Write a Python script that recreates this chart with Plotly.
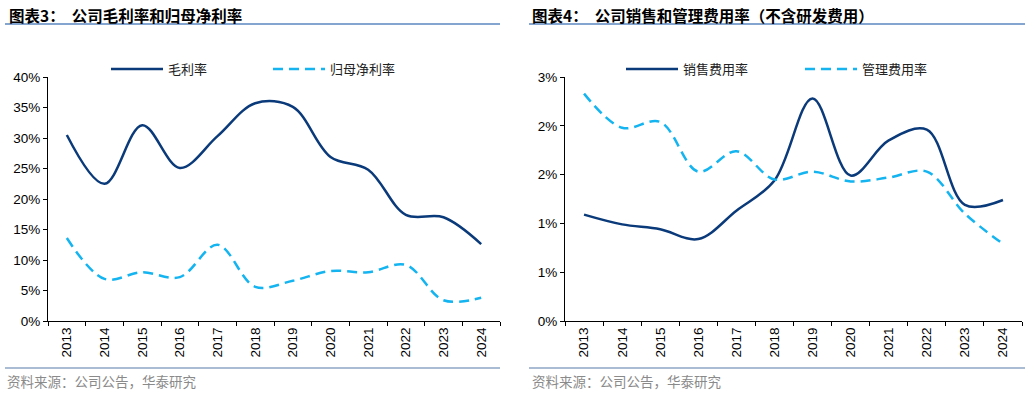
import plotly.graph_objects as go

years = ["2013", "2014", "2015", "2016", "2017", "2018", "2019", "2020", "2021", "2022", "2023", "2024"]

# 图表3 (%)
gross_margin = [30.5, 22.5, 32.1, 25.1, 30.3, 35.7, 35.1, 26.9, 24.8, 17.4, 17.0, 12.6]
net_margin = [13.6, 6.9, 8.0, 7.2, 12.5, 5.6, 6.6, 8.2, 8.0, 9.2, 3.4, 3.8]

# 图表4 (%)
selling_ratio = [1.09, 0.99, 0.94, 0.84, 1.13, 1.44, 2.28, 1.49, 1.85, 1.96, 1.19, 1.24]
admin_ratio = [2.33, 1.98, 2.04, 1.53, 1.74, 1.45, 1.53, 1.43, 1.47, 1.53, 1.10, 0.79]

left_yticks = [0, 5, 10, 15, 20, 25, 30, 35, 40]
left_yticklabels = ["0%", "5%", "10%", "15%", "20%", "25%", "30%", "35%", "40%"]
right_yticks = [0, 0.5, 1.0, 1.5, 2.0, 2.5]
right_yticklabels = ["0%", "1%", "1%", "2%", "2%", "3%"]

title_left = "图表3：  公司毛利率和归母净利率"
title_right = "图表4：  公司销售和管理费用率（不含研发费用）"
source_text = "资料来源：公司公告，华泰研究"

NAVY = "#0a3a7a"
LIGHT = "#14b4f0"
W, H = 1030, 393
CJK = "Noto Sans CJK SC"
LAT = "Liberation Sans, Arial, sans-serif"

def px(x):
    return x / W

def py(y):
    return (H - y) / H

fig = go.Figure()

fig.add_trace(go.Scatter(x=years, y=gross_margin, name="毛利率", mode="lines",
                         line=dict(color=NAVY, width=2.5, shape="spline"),
                         xaxis="x", yaxis="y", legend="legend"))
fig.add_trace(go.Scatter(x=years, y=net_margin, name="归母净利率", mode="lines",
                         line=dict(color=LIGHT, width=2.5, shape="spline", dash="10px,6px"),
                         xaxis="x", yaxis="y", legend="legend"))
fig.add_trace(go.Scatter(x=years, y=selling_ratio, name="销售费用率", mode="lines",
                         line=dict(color=NAVY, width=2.5, shape="spline"),
                         xaxis="x2", yaxis="y2", legend="legend2"))
fig.add_trace(go.Scatter(x=years, y=admin_ratio, name="管理费用率", mode="lines",
                         line=dict(color=LIGHT, width=2.5, shape="spline", dash="10px,6px"),
                         xaxis="x2", yaxis="y2", legend="legend2"))

xcommon = dict(type="category", range=[-0.5, 11.5], showline=True, linecolor="black",
               linewidth=1, ticks="outside", ticklen=4, tickcolor="black", tickson="boundaries",
               tickangle=-90, showgrid=False, zeroline=False, automargin=False,
               tickfont=dict(family=LAT, size=13.5, color="black"), fixedrange=True)
ycommon = dict(showline=True, linecolor="black", linewidth=1, ticks="outside", ticklen=4,
               tickcolor="black", showgrid=False, zeroline=False, automargin=False,
               tickfont=dict(family=LAT, size=13.5, color="black"), fixedrange=True)

legend_common = dict(orientation="h", xanchor="left", yanchor="middle",
                     entrywidthmode="pixels", itemwidth=52, bgcolor="rgba(0,0,0,0)",
                     font=dict(family=CJK, size=13, color="#222"))

fig.update_layout(
    width=W, height=H,
    margin=dict(l=0, r=0, t=0, b=0, pad=0, autoexpand=False),
    paper_bgcolor="white", plot_bgcolor="white",
    xaxis=dict(domain=[px(48), px(500)], anchor="y", **xcommon),
    yaxis=dict(domain=[py(321), py(77)], anchor="x", range=[0, 40], tickvals=left_yticks,
               ticktext=left_yticklabels, **ycommon),
    xaxis2=dict(domain=[px(565), px(1022)], anchor="y2", **xcommon),
    yaxis2=dict(domain=[py(321), py(77)], anchor="x2", range=[0, 2.5], tickvals=right_yticks,
                ticktext=right_yticklabels, **ycommon),
    legend=dict(x=px(106), y=py(69), entrywidth=95, **legend_common),
    legend2=dict(x=px(621), y=py(69), entrywidth=112, **legend_common),
    showlegend=True,
)

annotations = [
    dict(text="<b>" + title_left + "</b>", x=px(7), y=py(15), xref="paper", yref="paper",
         xanchor="left", yanchor="middle", showarrow=False,
         font=dict(family=CJK, size=15.5, color="black")),
    dict(text="<b>" + title_right + "</b>", x=px(530), y=py(15), xref="paper", yref="paper",
         xanchor="left", yanchor="middle", showarrow=False,
         font=dict(family=CJK, size=15.5, color="black")),
    dict(text=source_text, x=px(5), y=py(381), xref="paper", yref="paper",
         xanchor="left", yanchor="middle", showarrow=False,
         font=dict(family=CJK, size=13.5, color="#8a8a8a")),
    dict(text=source_text, x=px(530), y=py(381), xref="paper", yref="paper",
         xanchor="left", yanchor="middle", showarrow=False,
         font=dict(family=CJK, size=13.5, color="#8a8a8a")),
]
fig.update_layout(annotations=annotations)

shapes = [
    dict(type="line", xref="paper", yref="paper", x0=px(5), x1=px(500), y0=py(24), y1=py(24),
         line=dict(color="#5b87c0", width=1.5)),
    dict(type="line", xref="paper", yref="paper", x0=px(529), x1=px(1025), y0=py(24), y1=py(24),
         line=dict(color="#5b87c0", width=1.5)),
    dict(type="line", xref="paper", yref="paper", x0=px(5), x1=px(500), y0=py(368), y1=py(368),
         line=dict(color="#a9bcd4", width=2)),
    dict(type="line", xref="paper", yref="paper", x0=px(529), x1=px(1025), y0=py(368), y1=py(368),
         line=dict(color="#a9bcd4", width=2)),
]
fig.update_layout(shapes=shapes)

fig.write_html("out.html",
               config={"displayModeBar": False, "staticPlot": True},
               post_script="document.body.style.margin='0';document.body.style.padding='0';")
